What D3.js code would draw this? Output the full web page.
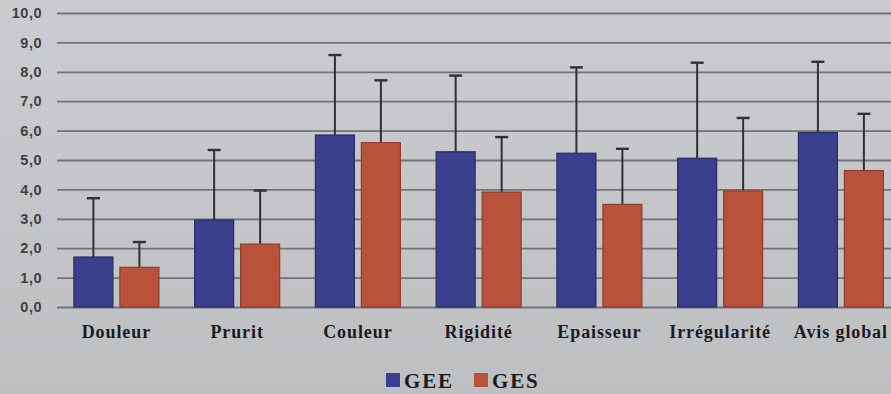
<!DOCTYPE html>
<html><head><meta charset="utf-8">
<script src="https://cdn.jsdelivr.net/npm/d3@7"></script>
<style>
html,body{margin:0;padding:0;background:#c6c7c9;overflow:hidden;}
svg{display:block;}
</style></head>
<body>
<svg id="chart" width="891" height="394"></svg>
<script>
const categories = ["Douleur","Prurit","Couleur","Rigidité","Epaisseur","Irrégularité","Avis global"];
const series = ["GEE","GES"];
const geeValues = [1.70, 2.96, 5.85, 5.28, 5.23, 5.06, 5.93];
const gesValues = [1.35, 2.14, 5.59, 3.91, 3.49, 3.95, 4.64];
const geeErrors = [2.00, 2.38, 2.72, 2.59, 2.92, 3.25, 2.41];
const gesErrors = [0.86, 1.82, 2.12, 1.87, 1.89, 2.48, 1.93];
const yTicks = [0,1,2,3,4,5,6,7,8,9,10];
const colors = {GEE:"#3a3f8e", GES:"#b8523b"};
const serif = "Liberation Serif, Times New Roman, DejaVu Serif, serif";

const svg = d3.select("#chart");
const defs = svg.append("defs");
const grad = defs.append("linearGradient").attr("id","bg").attr("x1",0).attr("y1",0).attr("x2",0).attr("y2",1);
grad.append("stop").attr("offset","0%").attr("stop-color","#cbcccf");
grad.append("stop").attr("offset","100%").attr("stop-color","#bebfc1");
svg.append("rect").attr("width",891).attr("height",394).attr("fill","url(#bg)");

const left = 56, bandW = 120.75;
const x0 = d3.scaleBand().domain(categories).range([left, left + bandW*categories.length]).paddingInner(0).paddingOuter(0);
const x1 = d3.scaleBand().domain(series).range([17.9, 102.9]).paddingInner(0.152).paddingOuter(0);
const y = d3.scaleLinear().domain([0,10]).range([307,13]);

// gridlines + y labels
const yAxis = d3.axisLeft(y).tickValues(yTicks).tickSize(-(891-57)).tickPadding(15)
  .tickFormat(d => d3.format(".1f")(d).replace(".", ","));
const ga = svg.append("g").attr("transform","translate(57,0)").call(yAxis);
ga.select(".domain").remove();
ga.selectAll(".tick line").attr("stroke","#727377").attr("stroke-width",1.8);
ga.selectAll(".tick text").attr("fill","#3f4044").attr("font-family","Liberation Sans, Arial, sans-serif")
  .attr("font-size",14.5).attr("font-weight","bold").attr("letter-spacing","0.5px");

const data = categories.map((c,i) => ({cat:c, vals:[
  {s:"GEE", v:geeValues[i], e:geeErrors[i]},
  {s:"GES", v:gesValues[i], e:gesErrors[i]}
]}));

const groups = svg.append("g").selectAll("g").data(data).join("g")
  .attr("transform", d => `translate(${x0(d.cat)},0)`);

// error bars
groups.selectAll("g.err").data(d => d.vals).join("g").attr("class","err").each(function(d){
  const g = d3.select(this);
  const cx = x1(d.s) + x1.bandwidth()/2;
  g.append("line").attr("x1",cx).attr("x2",cx).attr("y1",y(d.v)).attr("y2",y(d.v+d.e))
    .attr("stroke","#2f3033").attr("stroke-width",2);
  g.append("line").attr("x1",cx-6.5).attr("x2",cx+6.5).attr("y1",y(d.v+d.e)).attr("y2",y(d.v+d.e))
    .attr("stroke","#2f3033").attr("stroke-width",2.4);
});

groups.selectAll("rect").data(d => d.vals).join("rect")
  .attr("x", d => x1(d.s)).attr("width", x1.bandwidth())
  .attr("y", d => y(d.v)).attr("height", d => y(0) - y(d.v))
  .attr("fill", d => colors[d.s])
  .attr("stroke", d => d.s==="GEE" ? "#2a2d66" : "#8e3d2d").attr("stroke-width",1.2);

// category labels
svg.append("g").selectAll("text").data(categories).join("text")
  .attr("x", d => x0(d) + x0.bandwidth()/2).attr("y", 338)
  .attr("text-anchor","middle")
  .attr("font-family", serif)
  .attr("font-weight","bold").attr("font-size",18).attr("letter-spacing","0.9px")
  .attr("fill","#1a1b1e").text(d => d);

// legend
const legendX = [386, 474];
const lg = svg.append("g").selectAll("g").data(series).join("g")
  .attr("transform",(d,i)=>`translate(${legendX[i]},373)`);
lg.append("rect").attr("width",14).attr("height",14).attr("fill",d=>colors[d]);
lg.append("text").attr("x",18).attr("y",15)
  .attr("font-family", serif)
  .attr("font-weight","bold").attr("font-size",21).attr("letter-spacing","1.8px")
  .attr("fill","#1a1b1e").text(d=>d);
</script>
</body></html>
